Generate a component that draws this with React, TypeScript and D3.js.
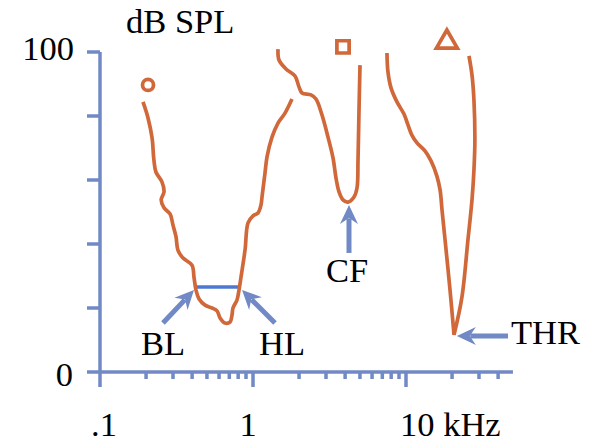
import React from 'react';
import * as d3 from 'd3';

// Tuning curve with circle marker (kHz, dB SPL)
const curveCircle: [number, number][] = [
  [0.191, 84.4], [0.206, 79.4], [0.219, 73.1], [0.225, 66.3], [0.232, 62.5],
  [0.254, 59.4], [0.262, 56.3], [0.251, 53.8], [0.262, 51.3], [0.287, 49.4],
  [0.300, 45.9], [0.314, 42.2], [0.323, 38.1], [0.349, 35.6], [0.399, 33.4],
  [0.412, 29.4], [0.424, 25.6], [0.444, 22.8], [0.486, 20.9], [0.540, 20.0],
  [0.582, 19.1], [0.609, 16.9], [0.656, 15.3], [0.707, 15.6], [0.729, 17.8],
  [0.740, 20.0], [0.786, 22.5], [0.810, 25.6], [0.835, 29.7], [0.887, 38.1],
  [0.928, 46.6], [1.0, 48.8], [1.078, 49.7], [1.128, 52.2], [1.145, 54.7],
  [1.198, 62.2], [1.235, 67.2], [1.331, 73.4], [1.457, 77.8], [1.619, 80.9],
  [1.798, 85.3],
];

// Tuning curve with square marker
const curveSquare: [number, number][] = [
  [1.457, 100.9], [1.479, 97.5], [1.643, 94.7], [1.882, 92.5], [1.998, 89.1],
  [2.091, 87.2], [2.394, 86.6], [2.581, 85.3], [2.825, 80.3], [3.092, 73.4],
  [3.334, 66.9], [3.488, 60.6], [3.649, 56.3], [3.875, 53.8], [4.178, 53.1],
  [4.573, 54.7], [4.784, 57.5], [4.857, 66.3], [4.930, 81.9], [5.005, 95.9],
];

// Tuning curve with triangle marker: low-frequency branch then high-frequency branch
const curveTriangleLow: [number, number][] = [
  [7.51, 99.7], [7.62, 93.8], [7.98, 88.8], [8.73, 84.4], [9.70, 80.6],
  [10.3, 77.2], [10.9, 74.1], [11.8, 71.6], [13.3, 69.1], [14.6, 65.9],
  [15.9, 61.3], [16.7, 56.9], [17.2, 50.6], [18.0, 41.3], [19.4, 25.6],
  [20.6, 11.6],
];
const curveTriangleHigh: [number, number][] = [
  [20.6, 11.6], [23.2, 23.4], [25.4, 41.3], [27.0, 53.8], [27.8, 63.1],
  [28.2, 72.5], [27.8, 85.0], [27.0, 92.8], [25.8, 98.8],
];

const markerCircle: [number, number] = [0.206, 89.7];
const markerSquare: [number, number] = [3.875, 101.6];
const markerTriangle: [number, number] = [18.5, 103.1];

const bandwidthLine: [number, number][] = [[0.4305, 26.6], [0.798, 26.6]];

const arrowLabels = ['BL', 'HL', 'CF', 'THR'];
const arrowTails: [number, number][] = [[0.258, 15.3], [1.392, 15.3], [4.24, 37.2], [46.4, 11.25]];
const arrowTips: [number, number][] = [[0.4115, 25.6], [0.848, 25.6], [4.24, 52.2], [21.5, 11.25]];

const xMajorTicks = [0.1, 1, 10];
const xMajorLabels = ['.1', '1', '10 kHz'];
const xMinorTicks = [0.2, 0.3, 0.4, 0.5, 0.6, 0.7, 0.8, 0.9, 2, 3, 4, 5, 6, 7, 8, 9, 20, 30, 40];
const xAxisMax = 50;
const yTicks = [0, 20, 40, 60, 80, 100];
const yTickLabels = ['0', '100'];
const yTitle = 'dB SPL';

const W = 592;
const H = 444;
const ORANGE = '#d0683a';
const AXIS = '#7189c4';
const BWBLUE = '#4c78d2';
const FONT = '"Liberation Serif", "Times New Roman", serif';

export default function App() {
  const x = d3.scaleLog().domain([0.1, 10]).range([100, 406]);
  const y = d3.scaleLinear().domain([0, 100]).range([372, 52]);

  const line = d3
    .line<[number, number]>()
    .x((d) => x(d[0]))
    .y((d) => y(d[1]))
    .curve(d3.curveCatmullRom.alpha(0.5));

  const pathCircle = line(curveCircle) || '';
  const pathSquare = line(curveSquare) || '';
  const pathTri = (line(curveTriangleLow) || '') + (line(curveTriangleHigh) || '').replace(/^M/, 'L');

  const x0 = x(0.1);
  const y0 = y(0);
  const tickLen = 13;

  const arrowHead = (tx: number, ty: number, fx: number, fy: number) => {
    const dx = fx - tx;
    const dy = fy - ty;
    const len = Math.hypot(dx, dy);
    const ux = dx / len;
    const uy = dy / len;
    const px = -uy;
    const py = ux;
    const L = 19;
    const Wd = 9;
    const notch = 6;
    const p1 = [tx, ty];
    const p2 = [tx + ux * L + px * Wd, ty + uy * L + py * Wd];
    const p3 = [tx + ux * (L - notch), ty + uy * (L - notch)];
    const p4 = [tx + ux * L - px * Wd, ty + uy * L - py * Wd];
    return {
      d: `M${p1[0]},${p1[1]}L${p2[0]},${p2[1]}L${p3[0]},${p3[1]}L${p4[0]},${p4[1]}Z`,
      sx: p3[0] + ux * 0.5,
      sy: p3[1] + uy * 0.5,
    };
  };

  const labelPos: Record<string, [number, number]> = {
    BL: [141, 355],
    HL: [259, 355],
    CF: [326, 282],
    THR: [511, 344],
  };

  const triSym = d3.symbol().type(d3.symbolTriangle).size(190)() || '';
  const sqSym = d3.symbol().type(d3.symbolSquare).size(150)() || '';

  return (
    <svg
      width={W}
      height={H}
      viewBox={`0 0 ${W} ${H}`}
      style={{ position: 'absolute', left: 0, top: 0, background: '#fff' }}
    >
      <rect x={0} y={0} width={W} height={H} fill="#fff" />
      {/* axes */}
      <g stroke={AXIS} strokeWidth={3.5} fill="none">
        <line x1={x0} y1={y(100)} x2={x0} y2={y0 + 15} />
        <line x1={x0 - tickLen} y1={y0} x2={x(xAxisMax)} y2={y0} />
        {yTicks.filter((t) => t > 0).map((t) => (
          <line key={'yt' + t} x1={x0 - tickLen} y1={y(t)} x2={x0} y2={y(t)} />
        ))}
        {xMajorTicks.filter((t) => t > 0.1).map((t) => (
          <line key={'xM' + t} x1={x(t)} y1={y0} x2={x(t)} y2={y0 + 15} />
        ))}
        {xMinorTicks.map((t) => (
          <line key={'xm' + t} x1={x(t)} y1={y0} x2={x(t)} y2={y0 + 7} />
        ))}
      </g>

      {/* text */}
      <g fontFamily={FONT} fontSize={34.5} fill="#000">
        <text x={126} y={33}>{yTitle}</text>
        <text x={74} y={60} textAnchor="end">{yTickLabels[1]}</text>
        <text x={73} y={386} textAnchor="end">{yTickLabels[0]}</text>
        <text x={x(xMajorTicks[0]) - 9} y={436}>{xMajorLabels[0]}</text>
        <text x={x(xMajorTicks[1]) - 5} y={436} textAnchor="middle">{xMajorLabels[1]}</text>
        <text x={x(xMajorTicks[2]) - 6} y={436}>{xMajorLabels[2]}</text>
        {arrowLabels.map((l) => (
          <text key={'lab' + l} x={labelPos[l][0]} y={labelPos[l][1]}>{l}</text>
        ))}
      </g>

      {/* bandwidth line */}
      <line
        x1={x(bandwidthLine[0][0])}
        y1={y(bandwidthLine[0][1])}
        x2={x(bandwidthLine[1][0])}
        y2={y(bandwidthLine[1][1])}
        stroke={BWBLUE}
        strokeWidth={3.5}
      />

      {/* curves */}
      <g stroke={ORANGE} strokeWidth={3.7} fill="none" strokeLinejoin="round" strokeLinecap="butt">
        <path d={pathCircle} />
        <path d={pathSquare} />
        <path d={pathTri} strokeLinejoin="miter" strokeMiterlimit={2} />
        <circle cx={x(markerCircle[0])} cy={y(markerCircle[1])} r={5.5} />
        <path d={sqSym} transform={`translate(${x(markerSquare[0])},${y(markerSquare[1])})`} strokeLinejoin="miter" />
        <path d={triSym} transform={`translate(${x(markerTriangle[0])},${y(markerTriangle[1])})`} strokeLinejoin="miter" />
      </g>

      {/* arrows */}
      {arrowLabels.map((l, i) => {
        const fx = x(arrowTails[i][0]);
        const fy = y(arrowTails[i][1]);
        const tx = x(arrowTips[i][0]);
        const ty = y(arrowTips[i][1]);
        const h = arrowHead(tx, ty, fx, fy);
        return (
          <g key={'arr' + l}>
            <line x1={fx} y1={fy} x2={h.sx} y2={h.sy} stroke={AXIS} strokeWidth={5} />
            <path d={h.d} fill={AXIS} />
          </g>
        );
      })}
    </svg>
  );
}
